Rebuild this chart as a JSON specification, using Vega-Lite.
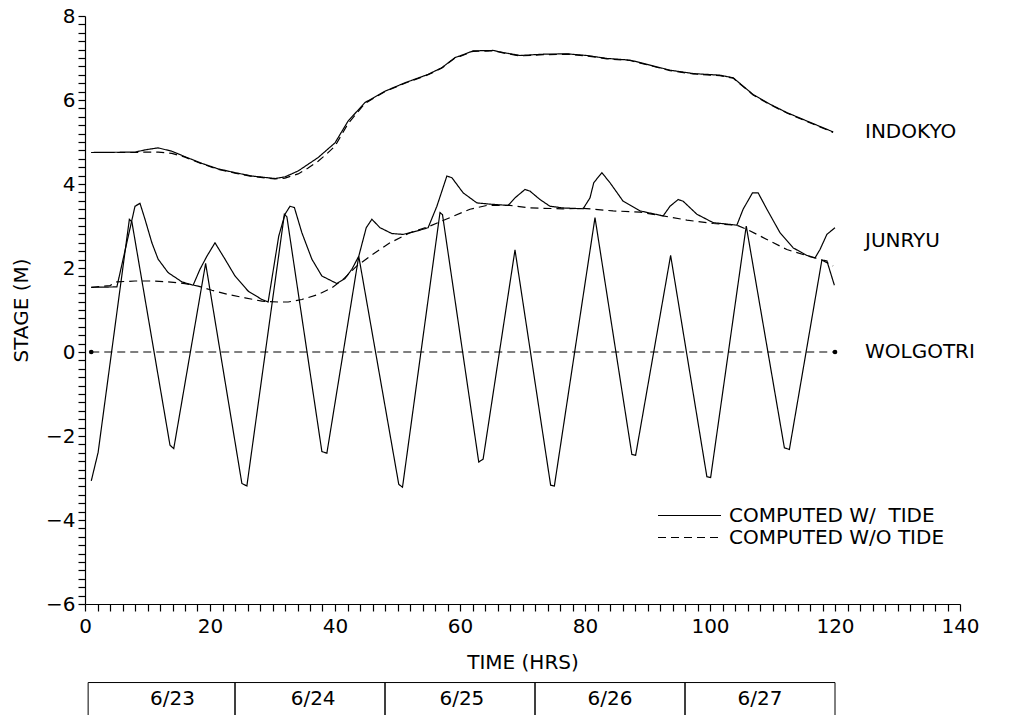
{
  "$schema": "https://vega.github.io/schema/vega-lite/v6.json",
  "autosize": {"type": "none"},
  "width": 875,
  "height": 588,
  "padding": {"left": 85, "top": 16, "right": 51, "bottom": 111},
  "background": "white",
  "config": {
    "font": "DejaVu Sans",
    "view": {"stroke": null},
    "axis": {"domainColor": "black", "tickColor": "black", "labelColor": "black", "titleColor": "black", "labelFontSize": 20, "titleFontSize": 20, "titleFontWeight": "normal", "grid": false, "tickSize": 7, "tickWidth": 1.2, "domainWidth": 1.2, "labelOverlap": false, "labelFlush": false, "tickCount": 200}
  },
  "datasets": {
    "lines": [
      {"station": "INDOKYO", "run": "with", "hour": 1, "stage": 4.75},
      {"station": "INDOKYO", "run": "with", "hour": 8, "stage": 4.76},
      {"station": "INDOKYO", "run": "with", "hour": 9.9, "stage": 4.82},
      {"station": "INDOKYO", "run": "with", "hour": 11.7, "stage": 4.86},
      {"station": "INDOKYO", "run": "with", "hour": 13.9, "stage": 4.78},
      {"station": "INDOKYO", "run": "with", "hour": 16, "stage": 4.65},
      {"station": "INDOKYO", "run": "with", "hour": 18.7, "stage": 4.49},
      {"station": "INDOKYO", "run": "with", "hour": 21.3, "stage": 4.36},
      {"station": "INDOKYO", "run": "with", "hour": 24, "stage": 4.27},
      {"station": "INDOKYO", "run": "with", "hour": 26.7, "stage": 4.19},
      {"station": "INDOKYO", "run": "with", "hour": 30.4, "stage": 4.13},
      {"station": "INDOKYO", "run": "with", "hour": 32, "stage": 4.17},
      {"station": "INDOKYO", "run": "with", "hour": 34.1, "stage": 4.31},
      {"station": "INDOKYO", "run": "with", "hour": 37.3, "stage": 4.63},
      {"station": "INDOKYO", "run": "with", "hour": 40, "stage": 4.98},
      {"station": "INDOKYO", "run": "with", "hour": 42.1, "stage": 5.5},
      {"station": "INDOKYO", "run": "with", "hour": 44.8, "stage": 5.94},
      {"station": "INDOKYO", "run": "with", "hour": 48, "stage": 6.21},
      {"station": "INDOKYO", "run": "with", "hour": 51.2, "stage": 6.41},
      {"station": "INDOKYO", "run": "with", "hour": 54.9, "stage": 6.61},
      {"station": "INDOKYO", "run": "with", "hour": 57.1, "stage": 6.77},
      {"station": "INDOKYO", "run": "with", "hour": 59.2, "stage": 7.01},
      {"station": "INDOKYO", "run": "with", "hour": 60, "stage": 7.05},
      {"station": "INDOKYO", "run": "with", "hour": 62.1, "stage": 7.17},
      {"station": "INDOKYO", "run": "with", "hour": 65.3, "stage": 7.18},
      {"station": "INDOKYO", "run": "with", "hour": 66.9, "stage": 7.13},
      {"station": "INDOKYO", "run": "with", "hour": 69.6, "stage": 7.06},
      {"station": "INDOKYO", "run": "with", "hour": 73.3, "stage": 7.09},
      {"station": "INDOKYO", "run": "with", "hour": 77.1, "stage": 7.1},
      {"station": "INDOKYO", "run": "with", "hour": 80.3, "stage": 7.06},
      {"station": "INDOKYO", "run": "with", "hour": 83.5, "stage": 6.99},
      {"station": "INDOKYO", "run": "with", "hour": 87.2, "stage": 6.95},
      {"station": "INDOKYO", "run": "with", "hour": 89.9, "stage": 6.85},
      {"station": "INDOKYO", "run": "with", "hour": 93.6, "stage": 6.71},
      {"station": "INDOKYO", "run": "with", "hour": 97.3, "stage": 6.63},
      {"station": "INDOKYO", "run": "with", "hour": 101.6, "stage": 6.59},
      {"station": "INDOKYO", "run": "with", "hour": 103.7, "stage": 6.53},
      {"station": "INDOKYO", "run": "with", "hour": 105.3, "stage": 6.33},
      {"station": "INDOKYO", "run": "with", "hour": 106.9, "stage": 6.13},
      {"station": "INDOKYO", "run": "with", "hour": 109.6, "stage": 5.9},
      {"station": "INDOKYO", "run": "with", "hour": 112.3, "stage": 5.7},
      {"station": "INDOKYO", "run": "with", "hour": 115.5, "stage": 5.5},
      {"station": "INDOKYO", "run": "with", "hour": 119.7, "stage": 5.24},

      {"station": "INDOKYO", "run": "without", "hour": 1, "stage": 4.75},
      {"station": "INDOKYO", "run": "without", "hour": 8, "stage": 4.75},
      {"station": "INDOKYO", "run": "without", "hour": 9.9, "stage": 4.76},
      {"station": "INDOKYO", "run": "without", "hour": 11.7, "stage": 4.76},
      {"station": "INDOKYO", "run": "without", "hour": 13.9, "stage": 4.73},
      {"station": "INDOKYO", "run": "without", "hour": 16, "stage": 4.64},
      {"station": "INDOKYO", "run": "without", "hour": 18.7, "stage": 4.48},
      {"station": "INDOKYO", "run": "without", "hour": 21.3, "stage": 4.35},
      {"station": "INDOKYO", "run": "without", "hour": 24, "stage": 4.26},
      {"station": "INDOKYO", "run": "without", "hour": 26.7, "stage": 4.18},
      {"station": "INDOKYO", "run": "without", "hour": 30.4, "stage": 4.12},
      {"station": "INDOKYO", "run": "without", "hour": 32, "stage": 4.14},
      {"station": "INDOKYO", "run": "without", "hour": 34.1, "stage": 4.24},
      {"station": "INDOKYO", "run": "without", "hour": 35.7, "stage": 4.38},
      {"station": "INDOKYO", "run": "without", "hour": 37.3, "stage": 4.54},
      {"station": "INDOKYO", "run": "without", "hour": 38.7, "stage": 4.72},
      {"station": "INDOKYO", "run": "without", "hour": 40, "stage": 4.9},
      {"station": "INDOKYO", "run": "without", "hour": 42.1, "stage": 5.44},
      {"station": "INDOKYO", "run": "without", "hour": 44.8, "stage": 5.92},
      {"station": "INDOKYO", "run": "without", "hour": 48, "stage": 6.2},
      {"station": "INDOKYO", "run": "without", "hour": 51.2, "stage": 6.4},
      {"station": "INDOKYO", "run": "without", "hour": 54.9, "stage": 6.6},
      {"station": "INDOKYO", "run": "without", "hour": 57.1, "stage": 6.76},
      {"station": "INDOKYO", "run": "without", "hour": 59.2, "stage": 7.0},
      {"station": "INDOKYO", "run": "without", "hour": 60, "stage": 7.04},
      {"station": "INDOKYO", "run": "without", "hour": 62.1, "stage": 7.16},
      {"station": "INDOKYO", "run": "without", "hour": 65.3, "stage": 7.17},
      {"station": "INDOKYO", "run": "without", "hour": 66.9, "stage": 7.12},
      {"station": "INDOKYO", "run": "without", "hour": 69.6, "stage": 7.05},
      {"station": "INDOKYO", "run": "without", "hour": 73.3, "stage": 7.08},
      {"station": "INDOKYO", "run": "without", "hour": 77.1, "stage": 7.09},
      {"station": "INDOKYO", "run": "without", "hour": 80.3, "stage": 7.05},
      {"station": "INDOKYO", "run": "without", "hour": 83.5, "stage": 6.98},
      {"station": "INDOKYO", "run": "without", "hour": 87.2, "stage": 6.94},
      {"station": "INDOKYO", "run": "without", "hour": 89.9, "stage": 6.84},
      {"station": "INDOKYO", "run": "without", "hour": 93.6, "stage": 6.7},
      {"station": "INDOKYO", "run": "without", "hour": 97.3, "stage": 6.62},
      {"station": "INDOKYO", "run": "without", "hour": 101.6, "stage": 6.58},
      {"station": "INDOKYO", "run": "without", "hour": 103.7, "stage": 6.52},
      {"station": "INDOKYO", "run": "without", "hour": 105.3, "stage": 6.32},
      {"station": "INDOKYO", "run": "without", "hour": 106.9, "stage": 6.12},
      {"station": "INDOKYO", "run": "without", "hour": 109.6, "stage": 5.89},
      {"station": "INDOKYO", "run": "without", "hour": 112.3, "stage": 5.69},
      {"station": "INDOKYO", "run": "without", "hour": 115.5, "stage": 5.49},
      {"station": "INDOKYO", "run": "without", "hour": 119.7, "stage": 5.23},

      {"station": "JUNRYU", "run": "with", "hour": 1, "stage": 1.54},
      {"station": "JUNRYU", "run": "with", "hour": 5.1, "stage": 1.55},
      {"station": "JUNRYU", "run": "with", "hour": 8.0, "stage": 3.47},
      {"station": "JUNRYU", "run": "with", "hour": 8.8, "stage": 3.54},
      {"station": "JUNRYU", "run": "with", "hour": 9.6, "stage": 3.16},
      {"station": "JUNRYU", "run": "with", "hour": 10.7, "stage": 2.6},
      {"station": "JUNRYU", "run": "with", "hour": 11.7, "stage": 2.21},
      {"station": "JUNRYU", "run": "with", "hour": 13.3, "stage": 1.89},
      {"station": "JUNRYU", "run": "with", "hour": 15.5, "stage": 1.67},
      {"station": "JUNRYU", "run": "with", "hour": 17.3, "stage": 1.59},
      {"station": "JUNRYU", "run": "with", "hour": 18.4, "stage": 1.97},
      {"station": "JUNRYU", "run": "with", "hour": 19.5, "stage": 2.28},
      {"station": "JUNRYU", "run": "with", "hour": 20.8, "stage": 2.6},
      {"station": "JUNRYU", "run": "with", "hour": 22.4, "stage": 2.21},
      {"station": "JUNRYU", "run": "with", "hour": 24, "stage": 1.81},
      {"station": "JUNRYU", "run": "with", "hour": 26.1, "stage": 1.45},
      {"station": "JUNRYU", "run": "with", "hour": 28.3, "stage": 1.25},
      {"station": "JUNRYU", "run": "with", "hour": 29.3, "stage": 1.19},
      {"station": "JUNRYU", "run": "with", "hour": 31.0, "stage": 2.76},
      {"station": "JUNRYU", "run": "with", "hour": 32.0, "stage": 3.28},
      {"station": "JUNRYU", "run": "with", "hour": 32.8, "stage": 3.47},
      {"station": "JUNRYU", "run": "with", "hour": 33.5, "stage": 3.44},
      {"station": "JUNRYU", "run": "with", "hour": 34.7, "stage": 2.84},
      {"station": "JUNRYU", "run": "with", "hour": 36.3, "stage": 2.21},
      {"station": "JUNRYU", "run": "with", "hour": 37.9, "stage": 1.81},
      {"station": "JUNRYU", "run": "with", "hour": 40.3, "stage": 1.63},
      {"station": "JUNRYU", "run": "with", "hour": 41.6, "stage": 1.75},
      {"station": "JUNRYU", "run": "with", "hour": 42.7, "stage": 1.97},
      {"station": "JUNRYU", "run": "with", "hour": 43.8, "stage": 2.28},
      {"station": "JUNRYU", "run": "with", "hour": 45.0, "stage": 2.96},
      {"station": "JUNRYU", "run": "with", "hour": 45.9, "stage": 3.16},
      {"station": "JUNRYU", "run": "with", "hour": 47.2, "stage": 2.96},
      {"station": "JUNRYU", "run": "with", "hour": 49.1, "stage": 2.82},
      {"station": "JUNRYU", "run": "with", "hour": 50.9, "stage": 2.8},
      {"station": "JUNRYU", "run": "with", "hour": 53.1, "stage": 2.88},
      {"station": "JUNRYU", "run": "with", "hour": 54.9, "stage": 2.96},
      {"station": "JUNRYU", "run": "with", "hour": 56.3, "stage": 3.47},
      {"station": "JUNRYU", "run": "with", "hour": 57.9, "stage": 4.19},
      {"station": "JUNRYU", "run": "with", "hour": 58.7, "stage": 4.15},
      {"station": "JUNRYU", "run": "with", "hour": 60.5, "stage": 3.79},
      {"station": "JUNRYU", "run": "with", "hour": 62.7, "stage": 3.55},
      {"station": "JUNRYU", "run": "with", "hour": 64.8, "stage": 3.52},
      {"station": "JUNRYU", "run": "with", "hour": 67.7, "stage": 3.49},
      {"station": "JUNRYU", "run": "with", "hour": 68.8, "stage": 3.67},
      {"station": "JUNRYU", "run": "with", "hour": 70.4, "stage": 3.87},
      {"station": "JUNRYU", "run": "with", "hour": 71.2, "stage": 3.83},
      {"station": "JUNRYU", "run": "with", "hour": 72.8, "stage": 3.63},
      {"station": "JUNRYU", "run": "with", "hour": 74.4, "stage": 3.47},
      {"station": "JUNRYU", "run": "with", "hour": 76.5, "stage": 3.43},
      {"station": "JUNRYU", "run": "with", "hour": 79.7, "stage": 3.41},
      {"station": "JUNRYU", "run": "with", "hour": 80.8, "stage": 3.67},
      {"station": "JUNRYU", "run": "with", "hour": 81.4, "stage": 4.03},
      {"station": "JUNRYU", "run": "with", "hour": 82.7, "stage": 4.27},
      {"station": "JUNRYU", "run": "with", "hour": 84.0, "stage": 4.03},
      {"station": "JUNRYU", "run": "with", "hour": 86.1, "stage": 3.59},
      {"station": "JUNRYU", "run": "with", "hour": 88.8, "stage": 3.36},
      {"station": "JUNRYU", "run": "with", "hour": 92.5, "stage": 3.24},
      {"station": "JUNRYU", "run": "with", "hour": 93.6, "stage": 3.47},
      {"station": "JUNRYU", "run": "with", "hour": 94.9, "stage": 3.63},
      {"station": "JUNRYU", "run": "with", "hour": 95.7, "stage": 3.59},
      {"station": "JUNRYU", "run": "with", "hour": 97.9, "stage": 3.28},
      {"station": "JUNRYU", "run": "with", "hour": 100.5, "stage": 3.08},
      {"station": "JUNRYU", "run": "with", "hour": 104.3, "stage": 3.02},
      {"station": "JUNRYU", "run": "with", "hour": 105.3, "stage": 3.4},
      {"station": "JUNRYU", "run": "with", "hour": 106.8, "stage": 3.79},
      {"station": "JUNRYU", "run": "with", "hour": 107.7, "stage": 3.79},
      {"station": "JUNRYU", "run": "with", "hour": 109.1, "stage": 3.4},
      {"station": "JUNRYU", "run": "with", "hour": 111.2, "stage": 2.84},
      {"station": "JUNRYU", "run": "with", "hour": 113.3, "stage": 2.48},
      {"station": "JUNRYU", "run": "with", "hour": 115.5, "stage": 2.3},
      {"station": "JUNRYU", "run": "with", "hour": 116.8, "stage": 2.24},
      {"station": "JUNRYU", "run": "with", "hour": 117.6, "stage": 2.44},
      {"station": "JUNRYU", "run": "with", "hour": 118.7, "stage": 2.8},
      {"station": "JUNRYU", "run": "with", "hour": 120, "stage": 2.96},

      {"station": "JUNRYU", "run": "without", "hour": 1, "stage": 1.54},
      {"station": "JUNRYU", "run": "without", "hour": 4.0, "stage": 1.58},
      {"station": "JUNRYU", "run": "without", "hour": 5.1, "stage": 1.67},
      {"station": "JUNRYU", "run": "without", "hour": 8.0, "stage": 1.69},
      {"station": "JUNRYU", "run": "without", "hour": 10.7, "stage": 1.69},
      {"station": "JUNRYU", "run": "without", "hour": 13.3, "stage": 1.67},
      {"station": "JUNRYU", "run": "without", "hour": 16.0, "stage": 1.63},
      {"station": "JUNRYU", "run": "without", "hour": 18.1, "stage": 1.57},
      {"station": "JUNRYU", "run": "without", "hour": 20.3, "stage": 1.47},
      {"station": "JUNRYU", "run": "without", "hour": 22.9, "stage": 1.37},
      {"station": "JUNRYU", "run": "without", "hour": 25.6, "stage": 1.29},
      {"station": "JUNRYU", "run": "without", "hour": 28.3, "stage": 1.21},
      {"station": "JUNRYU", "run": "without", "hour": 30.9, "stage": 1.19},
      {"station": "JUNRYU", "run": "without", "hour": 32.5, "stage": 1.19},
      {"station": "JUNRYU", "run": "without", "hour": 34.7, "stage": 1.25},
      {"station": "JUNRYU", "run": "without", "hour": 37.3, "stage": 1.37},
      {"station": "JUNRYU", "run": "without", "hour": 39.5, "stage": 1.53},
      {"station": "JUNRYU", "run": "without", "hour": 41.3, "stage": 1.73},
      {"station": "JUNRYU", "run": "without", "hour": 43.5, "stage": 2.05},
      {"station": "JUNRYU", "run": "without", "hour": 45.6, "stage": 2.28},
      {"station": "JUNRYU", "run": "without", "hour": 48.8, "stage": 2.6},
      {"station": "JUNRYU", "run": "without", "hour": 52.0, "stage": 2.84},
      {"station": "JUNRYU", "run": "without", "hour": 55.2, "stage": 3.0},
      {"station": "JUNRYU", "run": "without", "hour": 58.4, "stage": 3.2},
      {"station": "JUNRYU", "run": "without", "hour": 61.6, "stage": 3.4},
      {"station": "JUNRYU", "run": "without", "hour": 64.3, "stage": 3.49},
      {"station": "JUNRYU", "run": "without", "hour": 68.0, "stage": 3.49},
      {"station": "JUNRYU", "run": "without", "hour": 71.2, "stage": 3.43},
      {"station": "JUNRYU", "run": "without", "hour": 76.5, "stage": 3.41},
      {"station": "JUNRYU", "run": "without", "hour": 79.7, "stage": 3.42},
      {"station": "JUNRYU", "run": "without", "hour": 84.5, "stage": 3.36},
      {"station": "JUNRYU", "run": "without", "hour": 88.8, "stage": 3.33},
      {"station": "JUNRYU", "run": "without", "hour": 92.5, "stage": 3.24},
      {"station": "JUNRYU", "run": "without", "hour": 96.3, "stage": 3.14},
      {"station": "JUNRYU", "run": "without", "hour": 100.5, "stage": 3.06},
      {"station": "JUNRYU", "run": "without", "hour": 104.3, "stage": 3.02},
      {"station": "JUNRYU", "run": "without", "hour": 105.9, "stage": 2.92},
      {"station": "JUNRYU", "run": "without", "hour": 109.1, "stage": 2.68},
      {"station": "JUNRYU", "run": "without", "hour": 112.3, "stage": 2.44},
      {"station": "JUNRYU", "run": "without", "hour": 116.0, "stage": 2.27},
      {"station": "JUNRYU", "run": "without", "hour": 117.6, "stage": 2.21},
      {"station": "JUNRYU", "run": "without", "hour": 119.2, "stage": 2.09},
      {"station": "JUNRYU", "run": "without", "hour": 119.7, "stage": 2.05},

      {"station": "WOLGOTRI", "run": "with", "hour": 1, "stage": -3.07},
      {"station": "WOLGOTRI", "run": "with", "hour": 2.1, "stage": -2.39},
      {"station": "WOLGOTRI", "run": "with", "hour": 7.1, "stage": 3.16},
      {"station": "WOLGOTRI", "run": "with", "hour": 7.5, "stage": 3.1},
      {"station": "WOLGOTRI", "run": "with", "hour": 13.6, "stage": -2.22},
      {"station": "WOLGOTRI", "run": "with", "hour": 14.2, "stage": -2.3},
      {"station": "WOLGOTRI", "run": "with", "hour": 19.3, "stage": 2.11},
      {"station": "WOLGOTRI", "run": "with", "hour": 25.1, "stage": -3.13},
      {"station": "WOLGOTRI", "run": "with", "hour": 25.9, "stage": -3.19},
      {"station": "WOLGOTRI", "run": "with", "hour": 31.9, "stage": 3.28},
      {"station": "WOLGOTRI", "run": "with", "hour": 32.3, "stage": 3.22},
      {"station": "WOLGOTRI", "run": "with", "hour": 37.9, "stage": -2.37},
      {"station": "WOLGOTRI", "run": "with", "hour": 38.7, "stage": -2.41},
      {"station": "WOLGOTRI", "run": "with", "hour": 43.8, "stage": 2.28},
      {"station": "WOLGOTRI", "run": "with", "hour": 50.2, "stage": -3.15},
      {"station": "WOLGOTRI", "run": "with", "hour": 50.8, "stage": -3.22},
      {"station": "WOLGOTRI", "run": "with", "hour": 56.8, "stage": 3.32},
      {"station": "WOLGOTRI", "run": "with", "hour": 57.2, "stage": 3.27},
      {"station": "WOLGOTRI", "run": "with", "hour": 63.0, "stage": -2.62},
      {"station": "WOLGOTRI", "run": "with", "hour": 63.7, "stage": -2.55},
      {"station": "WOLGOTRI", "run": "with", "hour": 68.8, "stage": 2.43},
      {"station": "WOLGOTRI", "run": "with", "hour": 74.5, "stage": -3.17},
      {"station": "WOLGOTRI", "run": "with", "hour": 75.1, "stage": -3.19},
      {"station": "WOLGOTRI", "run": "with", "hour": 81.6, "stage": 3.2},
      {"station": "WOLGOTRI", "run": "with", "hour": 87.5, "stage": -2.44},
      {"station": "WOLGOTRI", "run": "with", "hour": 88.1, "stage": -2.46},
      {"station": "WOLGOTRI", "run": "with", "hour": 93.7, "stage": 2.3},
      {"station": "WOLGOTRI", "run": "with", "hour": 99.5, "stage": -2.97},
      {"station": "WOLGOTRI", "run": "with", "hour": 100.1, "stage": -2.99},
      {"station": "WOLGOTRI", "run": "with", "hour": 105.8, "stage": 3.0},
      {"station": "WOLGOTRI", "run": "with", "hour": 111.9, "stage": -2.28},
      {"station": "WOLGOTRI", "run": "with", "hour": 112.7, "stage": -2.32},
      {"station": "WOLGOTRI", "run": "with", "hour": 117.9, "stage": 2.19},
      {"station": "WOLGOTRI", "run": "with", "hour": 118.7, "stage": 2.17},
      {"station": "WOLGOTRI", "run": "with", "hour": 119.9, "stage": 1.59},

      {"station": "WOLGOTRI", "run": "without", "hour": 1, "stage": 0},
      {"station": "WOLGOTRI", "run": "without", "hour": 120, "stage": 0}
    ],
    "labels": [
      {"name": "INDOKYO", "hour": 124.8, "stage": 5.23},
      {"name": "JUNRYU", "hour": 124.8, "stage": 2.65},
      {"name": "WOLGOTRI", "hour": 124.8, "stage": 0}
    ],
    "days": [
      {"day": "6/23", "start": 0.5, "end": 24, "mid": 14},
      {"day": "6/24", "start": 24, "end": 48, "mid": 36.5},
      {"day": "6/25", "start": 48, "end": 72, "mid": 60.3},
      {"day": "6/26", "start": 72, "end": 96, "mid": 84},
      {"day": "6/27", "start": 96, "end": 120, "mid": 108}
    ]
  },
  "layer": [
    {
      "data": {"name": "lines"},
      "mark": {"type": "line", "color": "black", "strokeWidth": 1.2},
      "encoding": {
        "x": {
          "field": "hour", "type": "quantitative",
          "scale": {"domain": [0, 140], "nice": false, "zero": false},
          "axis": {
            "title": "TIME (HRS)",
            "values": [0,2,4,6,8,10,12,14,16,18,20,22,24,26,28,30,32,34,36,38,40,42,44,46,48,50,52,54,56,58,60,62,64,66,68,70,72,74,76,78,80,82,84,86,88,90,92,94,96,98,100,102,104,106,108,110,112,114,116,118,120,122,124,126,128,130,132,134,136,138,140],
            "tickCount": 200,
            "labelExpr": "datum.value % 20 === 0 ? format(datum.value, 'd') : ''",
            "labelPadding": 5,
            "titlePadding": 16
          }
        },
        "y": {
          "field": "stage", "type": "quantitative",
          "scale": {"domain": [-6, 8], "nice": false, "zero": false},
          "axis": {
            "title": "STAGE (M)",
            "values": [-6,-5.8,-5.6,-5.4,-5.2,-5,-4.8,-4.6,-4.4,-4.2,-4,-3.8,-3.6,-3.4,-3.2,-3,-2.8,-2.6,-2.4,-2.2,-2,-1.8,-1.6,-1.4,-1.2,-1,-0.8,-0.6,-0.4,-0.2,0,0.2,0.4,0.6,0.8,1,1.2,1.4,1.6,1.8,2,2.2,2.4,2.6,2.8,3,3.2,3.4,3.6,3.8,4,4.2,4.4,4.6,4.8,5,5.2,5.4,5.6,5.8,6,6.2,6.4,6.6,6.8,7,7.2,7.4,7.6,7.8,8],
            "tickCount": 200,
            "labelExpr": "abs(datum.value - round(datum.value)) < 0.01 && round(datum.value) % 2 == 0 ? format(round(datum.value), 'd') : ''",
            "labelPadding": 3,
            "titlePadding": 14
          }
        },
        "strokeDash": {
          "field": "run", "type": "nominal",
          "scale": {"domain": ["with", "without"], "range": [[1, 0], [8, 5]]},
          "legend": {
            "title": null,
            "orient": "none",
            "legendX": 593,
            "legendY": 488,
            "symbolType": "M-3,0H3",
            "symbolSize": 441,
            "symbolStrokeWidth": 1.2,
            "symbolStrokeColor": "black",
            "labelFontSize": 20,
            "labelColor": "black",
            "labelOffset": 28,
            "labelLimit": 500,
            "rowPadding": -3,
            "padding": 0,
            "labelExpr": "datum.label == 'with' ? 'COMPUTED W/\u00a0\u00a0TIDE' : 'COMPUTED W/O TIDE'"
          }
        },
        "detail": {"field": "station", "type": "nominal"}
      }
    },
    {
      "data": {"name": "lines"},
      "transform": [{"filter": "datum.station == 'WOLGOTRI' && datum.run == 'without'"}],
      "mark": {"type": "point", "filled": true, "color": "black", "size": 22, "opacity": 1},
      "encoding": {
        "x": {"field": "hour", "type": "quantitative"},
        "y": {"field": "stage", "type": "quantitative"}
      }
    },
    {
      "data": {"name": "labels"},
      "mark": {"type": "text", "align": "left", "baseline": "middle", "fontSize": 20, "color": "black"},
      "encoding": {
        "x": {"field": "hour", "type": "quantitative"},
        "y": {"field": "stage", "type": "quantitative"},
        "text": {"field": "name"}
      }
    },
    {
      "data": {"name": "days"},
      "mark": {"type": "rect", "fill": "white", "fillOpacity": 0, "stroke": "black", "strokeWidth": 1},
      "encoding": {
        "x": {"field": "start", "type": "quantitative"},
        "x2": {"field": "end"},
        "y": {"datum": -7.87},
        "y2": {"datum": -9.5}
      }
    },
    {
      "data": {"name": "days"},
      "mark": {"type": "text", "align": "center", "baseline": "middle", "fontSize": 20, "color": "black"},
      "encoding": {
        "x": {"field": "mid", "type": "quantitative"},
        "y": {"datum": -8.27},
        "text": {"field": "day"}
      }
    }
  ]
}
